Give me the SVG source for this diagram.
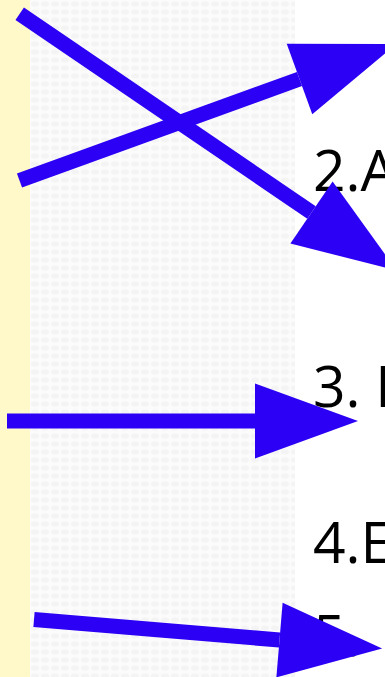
<svg xmlns="http://www.w3.org/2000/svg" width="385" height="677" viewBox="0 0 385 677">
  <style>
    .lbl { font-family: "Open Sans", "Noto Sans", sans-serif; font-size: 57px; fill: #000000; }
    .conn { stroke: #2B00F5; stroke-width: 15; fill: none; stroke-linecap: butt; }
  </style>
  <defs>
    <marker id="head" markerUnits="userSpaceOnUse" markerWidth="104" markerHeight="76" refX="0" refY="37.5" orient="auto" viewBox="0 0 104 76" overflow="visible">
      <path d="M0,0 L103,37.5 L0,75 Z" fill="#2B00F5"/>
    </marker>
    <pattern id="tex" patternUnits="userSpaceOnUse" width="10" height="8">
      <rect width="10" height="8" fill="#fbfbfb"/>
      <ellipse cx="5" cy="4" rx="4" ry="2.5" fill="#f4f4f4"/>
    </pattern>
  </defs>
  <rect id="background" x="0" y="0" width="385" height="677" fill="#ffffff"/>
  <rect id="strip" x="0" y="0" width="30" height="677" fill="#FFF8C8"/>
  <rect id="texture" x="30" y="0" width="265" height="677" fill="url(#tex)"/>
  <g id="label-2"><text class="lbl" x="313" y="191">2.A</text></g>
  <g id="label-3"><text class="lbl" x="313" y="407">3. I</text></g>
  <g id="label-4"><text class="lbl" x="313" y="563">4.E</text></g>
  <g id="label-5"><text class="lbl" x="313" y="656">5.</text></g>
  <g id="connectors">
    <line class="conn" x1="19.7" y1="13.7" x2="311.5" y2="212.5" marker-end="url(#head)"/>
    <line class="conn" x1="19.5" y1="180.5" x2="299.5" y2="79" marker-end="url(#head)"/>
    <line class="conn" x1="7" y1="421" x2="255" y2="421" marker-end="url(#head)"/>
    <line class="conn" x1="34" y1="619.5" x2="279.5" y2="640" marker-end="url(#head)"/>
  </g>
</svg>
